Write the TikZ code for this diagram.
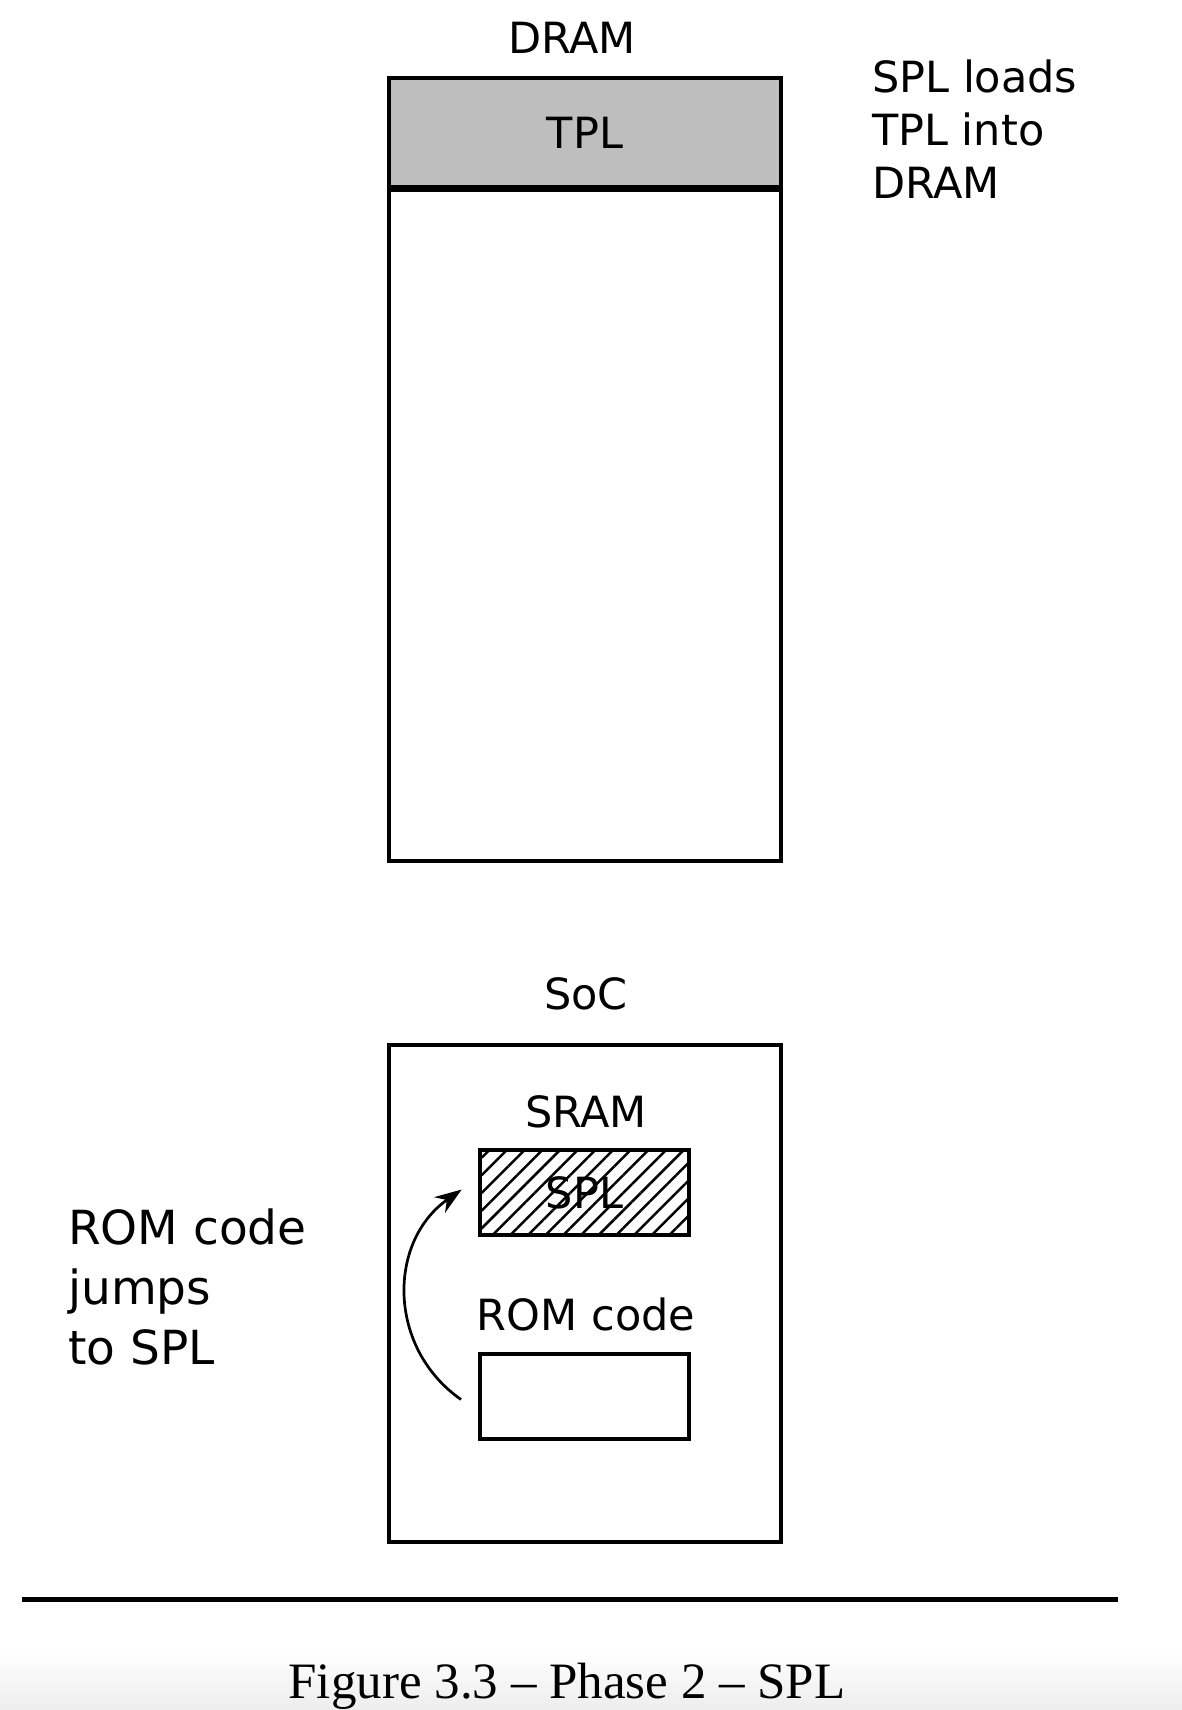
\documentclass[tikz,border=0pt]{standalone}
\usepackage{fontspec}
\setmainfont{DejaVu Sans}
\newfontfamily\capfont{Liberation Serif}
\usepackage{tikz}
\usetikzlibrary{positioning,arrows.meta,patterns.meta}
\definecolor{tplG}{HTML}{BEBEBE}

\begin{document}
\begin{tikzpicture}[x=1pt, y=1pt,
  every node/.style={font=\fontsize{43}{53}\selectfont, inner sep=0pt},
  mem/.style={rectangle, draw=black, line width=4.5pt, minimum width=392pt},
  blk/.style={rectangle, draw=black, line width=4pt, minimum width=209pt, minimum height=85pt},
  jump/.style={-{Stealth[length=27pt,width=19pt]}, line width=2.7pt}
]
  \useasboundingbox (0,0) rectangle (1182,1710);
  % faint shading at the page foot
  \shade[top color=white, bottom color=black!7] (0,0) rectangle (1182,60);

  % DRAM with TPL on top
  \node[mem, minimum height=783pt] (dram) at (585,1240.5) {};
  \node[mem, fill=tplG, minimum height=109pt] (tpl) at (585,1577.5) {TPL};
  \draw[line width=5.5pt] (tpl.south west) -- (tpl.south east);
  \node (dramlbl) at (572,1672) {DRAM};
  \node[align=left, anchor=north west] (loadtxt) at (872,1650) {SPL loads\\TPL into\\DRAM};

  % SoC
  \node[mem, minimum height=497pt] (soc) at (585,416.5) {};
  \node (soclbl) at (586,716) {SoC};
  \node (sramlbl) at (586,598) {SRAM};
  \node[blk, pattern={Lines[angle=45,distance=12.5pt,line width=2.5pt]}] (spl) at (584.5,517.5) {SPL};
  \node (romlbl) at (586,396) {ROM code};
  \node[blk] (rom) at (584.5,313.5) {};
  \node[align=left, anchor=north west, font=\fontsize{47}{60}\selectfont] (jumptxt) at (68,501) {ROM code\\jumps\\to SPL};
  \draw[jump] ([xshift=-17pt,yshift=-3pt]rom.west) to[out=145,in=215,looseness=1.1] ([xshift=-17pt,yshift=3pt]spl.west);

  % rule and caption
  \coordinate (ruleL) at (22,110);
  \coordinate (ruleR) at (1118,110);
  \draw[line width=5pt] (ruleL) -- (ruleR);
  \node[font=\capfont\fontsize{51}{60}\selectfont, anchor=base] (cap) at (567,11) {Figure 3.3 – Phase 2 – SPL};
\end{tikzpicture}
\end{document}
